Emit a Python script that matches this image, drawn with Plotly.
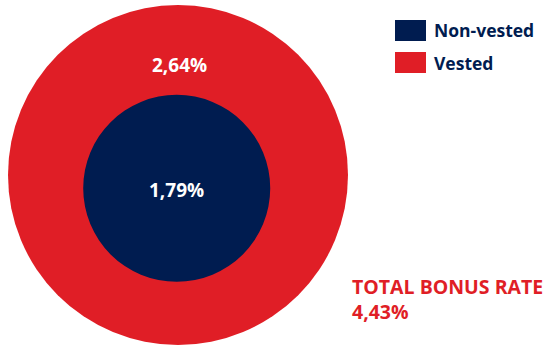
import plotly.graph_objects as go

# Bonus rate components (%)
categories = ["Non-vested", "Vested"]
values = [1.79, 2.64]
colors = ["#001C50", "#E01E26"]
total_label = "TOTAL BONUS RATE"

W, H = 547, 345
FONT = "Open Sans"


def fmt(v):
    return f"{v:.2f}".replace(".", ",") + "%"


total = sum(values)

fig = go.Figure()

# Outer disc: vested part
fig.add_trace(go.Pie(
    values=[values[1]], labels=[categories[1]],
    marker=dict(colors=[colors[1]], line=dict(width=0)),
    textinfo="none", hoverinfo="label+value", sort=False,
    domain=dict(x=[7 / W, 349 / W], y=[0, 340 / H]),
    showlegend=False,
))
# Inner disc: non-vested part
fig.add_trace(go.Pie(
    values=[values[0]], labels=[categories[0]],
    marker=dict(colors=[colors[0]], line=dict(width=0)),
    textinfo="none", hoverinfo="label+value", sort=False,
    domain=dict(x=[83.2 / W, 270.2 / W], y=[63.2 / H, 250.2 / H]),
    showlegend=False,
))

annotations = [
    dict(x=179 / W, y=1 - 65 / H, text=f"<b>{fmt(values[1])}</b>",
         xanchor="center", yanchor="middle",
         font=dict(family=FONT, size=19, color="white")),
    dict(x=176 / W, y=1 - 190 / H, text=f"<b>{fmt(values[0])}</b>",
         xanchor="center", yanchor="middle",
         font=dict(family=FONT, size=19, color="white")),
    dict(x=350 / W, y=1 - 271 / H, xanchor="left", yanchor="top", align="left",
         text=f"<b>{total_label}<br>{fmt(total)}</b>",
         font=dict(family=FONT, size=19.5, color=colors[1])),
]

shapes = []
# Legend swatches and labels
for i, (cat, col) in enumerate(zip(categories, colors)):
    y0 = 20 + i * 32
    shapes.append(dict(type="rect", xref="paper", yref="paper",
                       x0=395 / W, x1=426 / W, y0=1 - (y0 + 21) / H, y1=1 - y0 / H,
                       fillcolor=col, line=dict(width=0)))
    annotations.append(dict(x=432 / W, y=1 - (y0 + 10.5) / H,
                            xanchor="left", yanchor="middle",
                            text=f"<b>{cat}</b>",
                            font=dict(family=FONT, size=17.5, color=colors[0])))

for a in annotations:
    a.setdefault("xref", "paper")
    a.setdefault("yref", "paper")
    a.setdefault("showarrow", False)

fig.update_layout(
    width=W, height=H,
    margin=dict(l=0, r=0, t=0, b=0),
    paper_bgcolor="white", plot_bgcolor="white",
    annotations=annotations, shapes=shapes,
)

fig.write_html("out.html")
